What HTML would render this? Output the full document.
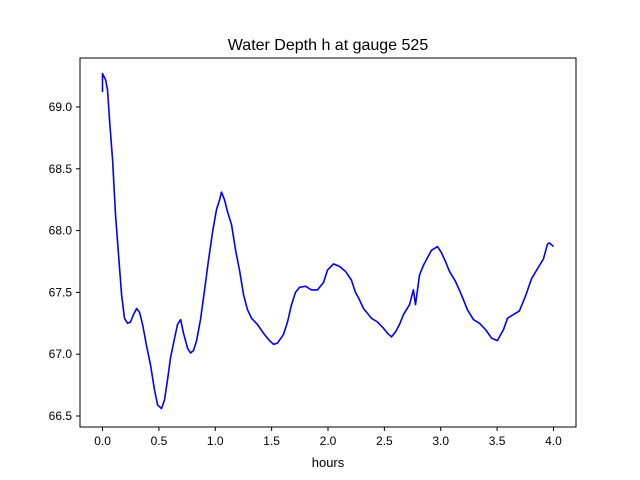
<!DOCTYPE html>
<html><head><meta charset="utf-8"><style>
body{margin:0;background:#fff}
svg{display:block;font-family:"Liberation Sans","DejaVu Sans",sans-serif}
</style></head><body>
<svg id="chart" width="640" height="480">
<rect width="640" height="480" fill="#fff"/>
<text x="328" y="50" font-size="16" text-anchor="middle">Water Depth h at gauge 525</text>
<text x="328" y="467" font-size="13" text-anchor="middle">hours</text>
<g id="ticks"></g>
<path id="line" fill="none" stroke="#0000ff" stroke-width="1.6" stroke-linejoin="round"/>
<rect x="80" y="58" width="496" height="369" fill="none" stroke="#000" stroke-width="1"/>
</svg>
<script>
const hours=[0.0,0.0,0.027,0.044,0.062,0.089,0.115,0.142,0.169,0.195,0.222,0.248,0.275,0.302,0.328,0.355,0.39,0.426,0.461,0.488,0.523,0.55,0.576,0.603,0.639,0.665,0.692,0.718,0.754,0.78,0.807,0.834,0.869,0.905,0.94,0.976,1.011,1.038,1.055,1.082,1.109,1.144,1.18,1.215,1.251,1.286,1.322,1.375,1.428,1.481,1.517,1.552,1.605,1.641,1.676,1.712,1.747,1.8,1.854,1.907,1.96,1.996,2.049,2.102,2.155,2.208,2.244,2.279,2.315,2.35,2.386,2.439,2.492,2.528,2.563,2.599,2.634,2.67,2.723,2.758,2.776,2.794,2.812,2.847,2.882,2.918,2.971,3.007,3.042,3.078,3.131,3.184,3.237,3.29,3.344,3.397,3.45,3.503,3.557,3.592,3.645,3.698,3.752,3.805,3.858,3.911,3.947,3.965,4.0];
const depth=[69.12,69.27,69.22,69.14,68.9,68.57,68.13,67.8,67.48,67.29,67.25,67.26,67.32,67.37,67.34,67.24,67.07,66.91,66.71,66.59,66.56,66.63,66.79,66.97,67.13,67.24,67.28,67.17,67.05,67.01,67.03,67.11,67.28,67.52,67.76,67.99,68.17,68.25,68.31,68.25,68.15,68.05,67.84,67.68,67.48,67.36,67.29,67.24,67.17,67.11,67.08,67.09,67.16,67.26,67.4,67.5,67.54,67.55,67.52,67.52,67.58,67.68,67.73,67.71,67.67,67.6,67.5,67.44,67.37,67.33,67.29,67.26,67.21,67.17,67.14,67.18,67.24,67.32,67.4,67.52,67.4,67.52,67.64,67.72,67.78,67.84,67.87,67.82,67.75,67.67,67.59,67.48,67.36,67.28,67.25,67.2,67.13,67.11,67.2,67.29,67.32,67.35,67.47,67.61,67.69,67.77,67.89,67.9,67.87];
const xTicks=[0.0,0.5,1.0,1.5,2.0,2.5,3.0,3.5,4.0];
const yTicks=[66.5,67.0,67.5,68.0,68.5,69.0];
const X0=80,X1=576,Y0=58,Y1=427,xmin=-0.2,xmax=4.2,ymin=66.411,ymax=69.396;
const sx=v=>X0+(v-xmin)/(xmax-xmin)*(X1-X0);
const sy=v=>Y1-(v-ymin)/(ymax-ymin)*(Y1-Y0);
const NS='http://www.w3.org/2000/svg';
const g=document.getElementById('ticks');
function mk(t,a){const e=document.createElementNS(NS,t);for(const k in a)e.setAttribute(k,a[k]);g.appendChild(e);return e;}
xTicks.forEach(v=>{
  const l=mk('line',{x1:sx(v),x2:sx(v),y1:Y1,y2:Y1+4,stroke:'#000'});
  
  
  const t=mk('text',{x:sx(v),y:Y1+18,'font-size':12,'text-anchor':'middle'});
  t.textContent=v.toFixed(1);
  
  
});
yTicks.forEach(v=>{
  const l=mk('line',{x1:X0-4,x2:X0,y1:sy(v),y2:sy(v),stroke:'#000'});
  
  
  const t=mk('text',{x:X0-8,y:sy(v)+4,'font-size':12,'text-anchor':'end'});
  t.textContent=v.toFixed(1);
  
  
});
document.getElementById('line').setAttribute('d',hours.map((h,i)=>(i?'L':'M')+sx(h).toFixed(1)+','+sy(depth[i]).toFixed(1)).join(''));
</script>
</body></html>
